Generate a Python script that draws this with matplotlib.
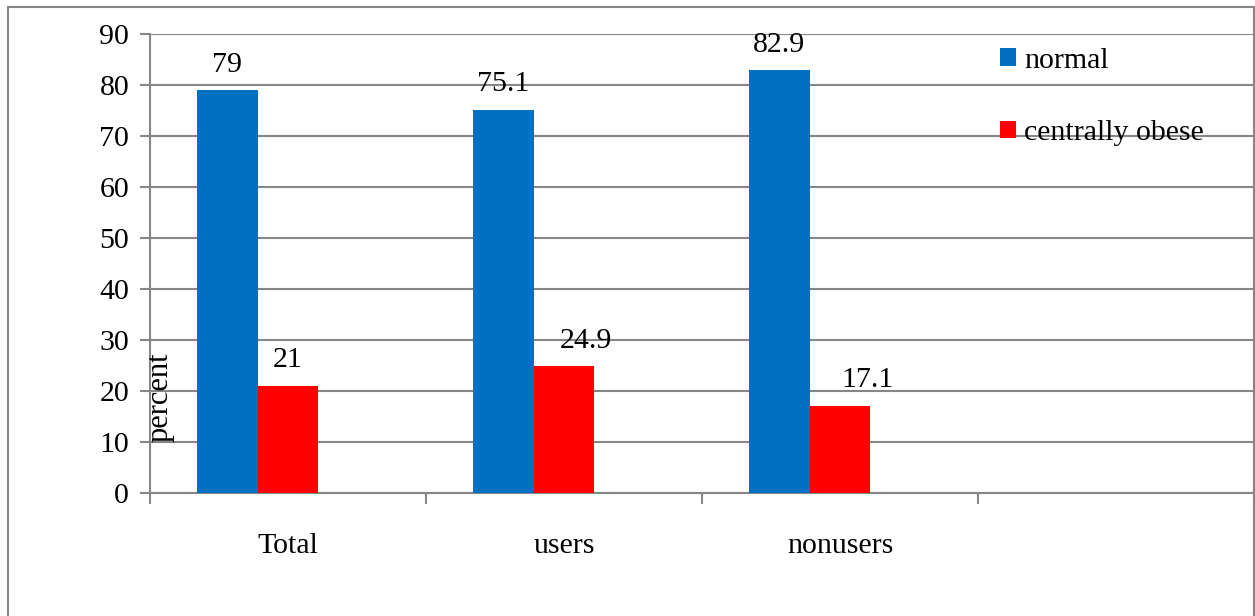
import matplotlib
matplotlib.use("Agg")
import matplotlib.pyplot as plt
from matplotlib.patches import Rectangle

categories = ["Total", "users", "nonusers", ""]
normal = [79, 75.1, 82.9]
obese = [21, 24.9, 17.1]
normal_labels = ["79", "75.1", "82.9"]
obese_labels = ["21", "24.9", "17.1"]
y_ticks = [0, 10, 20, 30, 40, 50, 60, 70, 80, 90]

plt.rcParams["font.family"] = ["Liberation Serif", "DejaVu Serif"]
FS = 21.5
GRAY = "#868686"
BLUE = "#0070C0"
RED = "#FF0000"

fig = plt.figure(figsize=(12.55, 6.16), dpi=100)
fig.patches.append(Rectangle((8 / 1255, -0.02), 1246 / 1255, 1 - 7 / 616 + 0.02,
                             transform=fig.transFigure, fill=False,
                             edgecolor=GRAY, linewidth=1.5, zorder=0))

ax = fig.add_axes([150 / 1255, 123 / 616, 1104 / 1255, 459 / 616])

w = 0.22
xs = list(range(len(normal)))
bn = ax.bar([x - w for x in xs], normal, width=w, align="center", color=BLUE,
            label="normal", zorder=3)
bo = ax.bar(xs, obese, width=w, align="center", color=RED,
            label="centrally obese", zorder=3)

# value labels above bars
for x, v, t in zip(xs, normal, normal_labels):
    ax.annotate(t, (x - w, v), xytext=(0, 9), textcoords="offset points",
                ha="center", va="bottom", fontsize=FS)
obese_dx = [0, 16, 20]
for x, v, t, dx in zip(xs, obese, obese_labels, obese_dx):
    ax.annotate(t, (x, v), xytext=(dx, 9), textcoords="offset points",
                ha="center", va="bottom", fontsize=FS)

ax.set_xlim(-0.5, len(categories) - 0.5)
ax.set_ylim(0, 90)
ax.set_yticks(y_ticks)
ax.set_yticklabels([str(t) for t in y_ticks], fontsize=FS)
ax.grid(axis="y", color=GRAY, linewidth=1.5, zorder=0)
ax.set_axisbelow(True)

# category ticks sit between groups, labels sit at group centres
ax.set_xticks([i - 0.5 for i in range(len(categories) + 1)])
ax.set_xticklabels([])
ax.set_xticks(list(range(len(categories))), minor=True)
ax.set_xticklabels(categories, minor=True, fontsize=FS)
ax.tick_params(axis="x", which="minor", length=0, pad=29)
ax.tick_params(axis="x", which="major", length=8, width=1.5, color=GRAY, direction="out")
ax.tick_params(axis="y", length=7, width=1.5, color=GRAY, pad=8)

for s in ["top", "right"]:
    ax.spines[s].set_visible(False)
for s in ["left", "bottom"]:
    ax.spines[s].set_color(GRAY)
    ax.spines[s].set_linewidth(1.5)

ax.text(0.009, 0.209, "percent", transform=ax.transAxes, rotation=90,
        ha="center", va="center", fontsize=22)

leg = ax.legend(handles=[bn, bo], loc="upper left", bbox_to_anchor=(0.759, 0.996),
                frameon=False, fontsize=FS, handlelength=0.55, handleheight=0.55,
                handletextpad=0.25, labelspacing=1.55, borderaxespad=0)

fig.savefig("out.png", dpi=100)
